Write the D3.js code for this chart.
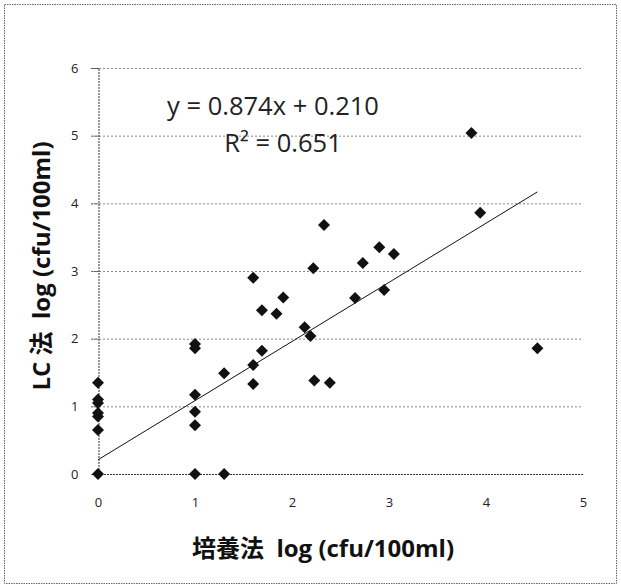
<!DOCTYPE html>
<html><head><meta charset="utf-8">
<script src="https://cdn.jsdelivr.net/npm/d3@7"></script>
<style>body{margin:0;background:#fff} text{white-space:pre}</style>
</head><body>
<script>
const cultureX = [0,0,0,0,0,0,0, 1,1,1,1,1,1, 1.30,1.30, 1.60,1.60,1.60, 1.69,1.69, 1.84, 1.91, 2.13, 2.19, 2.22,2.23, 2.33, 2.39, 2.65, 2.73, 2.90, 2.95, 3.05, 3.85, 3.94, 4.53];
const lcY      = [0,0.65,0.85,0.90,1.05,1.10,1.35, 0,0.72,0.92,1.17,1.86,1.92, 0,1.49, 1.33,1.61,2.90, 1.82,2.42, 2.37, 2.61, 2.17, 2.04, 3.04,1.38, 3.68, 1.35, 2.60, 3.12, 3.35, 2.72, 3.25, 5.04, 3.86, 1.86];
const xTicks = [0,1,2,3,4,5];
const yTicks = [0,1,2,3,4,5,6];
const slope = 0.874, intercept = 0.210;
const eqText = "y = 0.874x + 0.210";
const r2Text = "R² = 0.651";
const xLabel = "培養法  log (cfu/100ml)";
const yLabel = "LC 法  log (cfu/100ml)";

const W = 621, H = 588;
const svg = d3.select("body").append("svg").attr("width", W).attr("height", H);
const font = "'Open Sans','Noto Sans CJK JP',sans-serif";

svg.append("rect").attr("x",4.5).attr("y",4.5).attr("width",612).attr("height",579)
  .attr("fill","none").attr("stroke","#666").attr("stroke-dasharray","1.5,1");

const x = d3.scaleLinear().domain([0,5]).range([98,583]);
const y = d3.scaleLinear().domain([0,6]).range([474,68]);

// gridlines
svg.append("g").selectAll("line").data(yTicks.filter(d=>d>0)).join("line")
  .attr("x1",91).attr("x2",583).attr("y1",d=>y(d)+0.5).attr("y2",d=>y(d)+0.5)
  .attr("stroke","#888").attr("stroke-width",1).attr("stroke-dasharray","2,2");

// axes
const gx = svg.append("g").attr("transform",`translate(0,${y(0)+0.5})`)
  .call(d3.axisBottom(x).tickValues(xTicks).tickFormat(d3.format("d")).tickSize(0).tickPadding(23));
const gy = svg.append("g").attr("transform",`translate(${x(0)+0.5},0)`)
  .call(d3.axisLeft(y).tickValues(yTicks).tickFormat(d3.format("d")).tickSize(7).tickPadding(13));
[gx,gy].forEach(g=>{
  g.select(".domain").attr("stroke","#333").attr("stroke-dasharray","2,1");
  g.selectAll(".tick line").attr("stroke","#555").attr("stroke-dasharray","2,1");
  g.selectAll("text").attr("font-family",font).attr("font-size",13).attr("fill","#222");
});
gx.select(".domain").attr("d",`M${x(0)},0H${x(5)}`);

// trend line
const xmax = d3.max(cultureX);
svg.append("line")
  .attr("x1",x(0)).attr("y1",y(intercept))
  .attr("x2",x(xmax)).attr("y2",y(slope*xmax+intercept))
  .attr("stroke","#111").attr("stroke-width",1);

// points
const pts = cultureX.map((v,i)=>[v,lcY[i]]);
svg.append("g").selectAll("path").data(pts).join("path")
  .attr("d", d3.symbol(d3.symbolSquare, 72))
  .attr("transform", d=>`translate(${x(d[0])},${y(d[1])}) rotate(45)`)
  .attr("fill","#111");

// equation
svg.append("text").attr("x",273).attr("y",115).attr("text-anchor","middle")
  .attr("font-family",font).attr("font-size",25.5).attr("fill","#222").text(eqText);
svg.append("text").attr("x",283).attr("y",152).attr("text-anchor","middle")
  .attr("font-family",font).attr("font-size",25.5).attr("fill","#222").text(r2Text);

// axis labels
svg.append("text").attr("x",323).attr("y",557).attr("text-anchor","middle")
  .attr("font-family",font).attr("font-size",24).attr("font-weight","bold").attr("fill","#111").text(xLabel);
svg.append("text").attr("transform","translate(50,266) rotate(-90)").attr("text-anchor","middle")
  .attr("font-family",font).attr("font-size",24).attr("font-weight","bold").attr("fill","#111").text(yLabel);
</script>
</body></html>
